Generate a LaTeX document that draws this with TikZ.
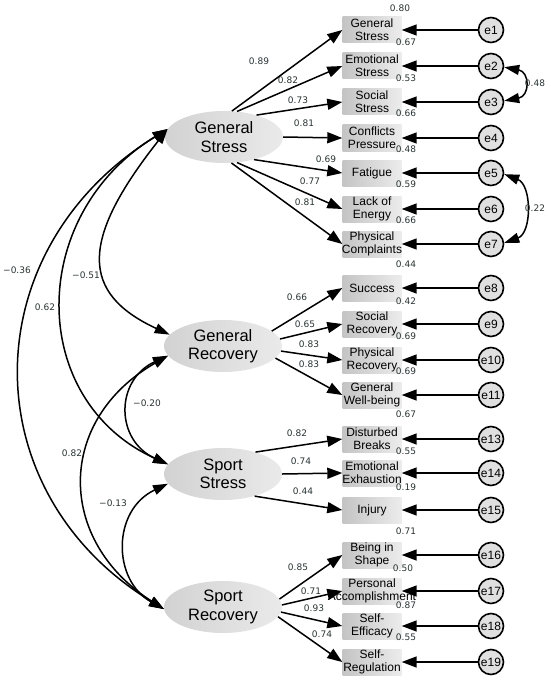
\documentclass[tikz,border=0pt]{standalone}
\usepackage{fontspec}
\setmainfont{Liberation Sans}
\newfontfamily\numfont{DejaVu Sans}
\usetikzlibrary{arrows.meta,shapes.geometric}

\definecolor{semboxdark}{RGB}{196, 196, 196}
\definecolor{semboxlight}{RGB}{236, 236, 236}
\definecolor{semlatent}{RGB}{210, 210, 210}
\definecolor{semlatentlight}{RGB}{234, 234, 234}
\definecolor{semerr}{RGB}{224, 224, 224}
\definecolor{semnum}{RGB}{40, 50, 50}

\newcommand{\boxline}[1]{\makebox[50pt][c]{#1}}

\begin{document}
\begin{tikzpicture}[
  x=1pt,
  y=-1pt,
  obsbox/.style={rectangle, minimum width=59pt, minimum height=26pt, inner sep=0pt, left color=semboxdark, right color=semboxlight, align=center, font=\fontsize{12}{13}\selectfont},
  latent/.style={ellipse, minimum width=118pt, minimum height=52pt, inner sep=0pt, left color=semlatent, right color=semlatentlight, align=center, font=\fontsize{16.5}{18.5}\selectfont},
  errcirc/.style={circle, draw=black, line width=1.6pt, fill=semerr, minimum size=25pt, inner sep=0pt, font=\fontsize{12}{13}\selectfont},
  numlabel/.style={font=\numfont\fontsize{9}{10}\selectfont, text=semnum, inner sep=0pt},
  loadarrow/.style={line width=1.5pt, -{Triangle[length=15pt, width=11pt]}},
  covarrow/.style={line width=1.5pt, {Triangle[length=15pt, width=10pt]}-{Triangle[length=15pt, width=10pt]}}
]

  \useasboundingbox (0, 0) rectangle (550, 682);

  % Latent factors
  \node[latent] (gs) at (224, 137) {General\\Stress};
  \node[latent] (gr) at (223, 346) {General\\Recovery};
  \node[latent] (ss) at (223, 474) {Sport\\Stress};
  \node[latent] (sr) at (223, 607) {Sport\\Recovery};

  % Observed scales
  \node[obsbox] (b1) at (372, 30) {General\\Stress};
  \node[obsbox] (b2) at (372, 66) {Emotional\\Stress};
  \node[obsbox] (b3) at (372, 102) {Social\\Stress};
  \node[obsbox] (b4) at (372, 138) {Conflicts\\Pressure};
  \node[obsbox] (b5) at (372, 173) {Fatigue};
  \node[obsbox] (b6) at (372, 209) {Lack of\\Energy};
  \node[obsbox] (b7) at (372, 244) {Physical\\\boxline{Complaints}};
  \node[obsbox] (b8) at (372, 288) {Success};
  \node[obsbox] (b9) at (372, 324) {Social\\Recovery};
  \node[obsbox] (b10) at (372, 360) {Physical\\Recovery};
  \node[obsbox] (b11) at (372, 395) {General\\Well-being};
  \node[obsbox] (b13) at (372, 439) {Disturbed\\Breaks};
  \node[obsbox] (b14) at (372, 473) {Emotional\\\boxline{Exhaustion}};
  \node[obsbox] (b15) at (372, 510) {Injury};
  \node[obsbox] (b16) at (372, 555) {Being in\\Shape};
  \node[obsbox] (b17) at (372, 591) {Personal\\\boxline{Accomplishment}};
  \node[obsbox] (b18) at (372, 626) {Self-\\Efficacy};
  \node[obsbox] (b19) at (372, 662) {Self-\\Regulation};

  % Error terms
  \node[errcirc] (e1) at (491, 30) {e1};
  \node[errcirc] (e2) at (491, 66) {e2};
  \node[errcirc] (e3) at (491, 102) {e3};
  \node[errcirc] (e4) at (491, 138) {e4};
  \node[errcirc] (e5) at (491, 173) {e5};
  \node[errcirc] (e6) at (491, 209) {e6};
  \node[errcirc] (e7) at (491, 244) {e7};
  \node[errcirc] (e8) at (491, 288) {e8};
  \node[errcirc] (e9) at (491, 324) {e9};
  \node[errcirc] (e10) at (491, 360) {e10};
  \node[errcirc] (e11) at (491, 395) {e11};
  \node[errcirc] (e13) at (491, 439) {e13};
  \node[errcirc] (e14) at (491, 473) {e14};
  \node[errcirc] (e15) at (491, 510) {e15};
  \node[errcirc] (e16) at (491, 555) {e16};
  \node[errcirc] (e17) at (491, 591) {e17};
  \node[errcirc] (e18) at (491, 626) {e18};
  \node[errcirc] (e19) at (491, 662) {e19};

  % Loadings
  \draw[loadarrow] (gs.73) -- (b1.west);
  \draw[loadarrow] (gs.63) -- (b2.west);
  \draw[loadarrow] (gs.34) -- (b3.west);
  \draw[loadarrow] (gs.0) -- (b4.west);
  \draw[loadarrow] (gs.-37) -- (b5.west);
  \draw[loadarrow] (gs.-63) -- (b6.west);
  \draw[loadarrow] (gs.-74) -- (b7.west);
  \draw[loadarrow] (gr.17) -- (b8.west);
  \draw[loadarrow] (gr.7) -- (b9.west);
  \draw[loadarrow] (gr.-5) -- (b10.west);
  \draw[loadarrow] (gr.-13) -- (b11.west);
  \draw[loadarrow] (ss.34) -- (b13.west);
  \draw[loadarrow] (ss.0) -- (b14.west);
  \draw[loadarrow] (ss.-35) -- (b15.west);
  \draw[loadarrow] (sr.8) -- (b16.west);
  \draw[loadarrow] (sr.2) -- (b17.west);
  \draw[loadarrow] (sr.-5) -- (b18.west);
  \draw[loadarrow] (sr.-10) -- (b19.west);

  % Error paths
  \draw[loadarrow] (e1) -- (b1);
  \draw[loadarrow] (e2) -- (b2);
  \draw[loadarrow] (e3) -- (b3);
  \draw[loadarrow] (e4) -- (b4);
  \draw[loadarrow] (e5) -- (b5);
  \draw[loadarrow] (e6) -- (b6);
  \draw[loadarrow] (e7) -- (b7);
  \draw[loadarrow] (e8) -- (b8);
  \draw[loadarrow] (e9) -- (b9);
  \draw[loadarrow] (e10) -- (b10);
  \draw[loadarrow] (e11) -- (b11);
  \draw[loadarrow] (e13) -- (b13);
  \draw[loadarrow] (e14) -- (b14);
  \draw[loadarrow] (e15) -- (b15);
  \draw[loadarrow] (e16) -- (b16);
  \draw[loadarrow] (e17) -- (b17);
  \draw[loadarrow] (e18) -- (b18);
  \draw[loadarrow] (e19) -- (b19);

  % Factor covariances
  \draw[covarrow] (gs.172) .. controls (-28, 250) and (-28, 492) .. (sr.182);
  \draw[covarrow] (gs.172) .. controls (27, 215) and (27, 400) .. (ss.170);
  \draw[covarrow] (gs.172) .. controls (80, 240) and (80, 293) .. (gr.168);
  \draw[covarrow] (gr.190) .. controls (115, 380) and (115, 440) .. (ss.170);
  \draw[covarrow] (gr.190) .. controls (56, 420) and (56, 540) .. (sr.182);
  \draw[covarrow] (ss.190) .. controls (112, 510) and (112, 580) .. (sr.182);

  % Error covariances
  \draw[covarrow] (e2.-5) .. controls (530, 72) and (530, 96) .. (e3.5);
  \draw[covarrow] (e5.-5) .. controls (532, 185) and (532, 233) .. (e7.5);

  % Loading values
  \node[numlabel] (l1) at (259, 61) {0.89};
  \node[numlabel] (l2) at (288, 80) {0.82};
  \node[numlabel] (l3) at (298, 100) {0.73};
  \node[numlabel] (l4) at (304, 123) {0.81};
  \node[numlabel] (l5) at (326, 159) {0.69};
  \node[numlabel] (l6) at (310, 181) {0.77};
  \node[numlabel] (l7) at (305, 202) {0.81};
  \node[numlabel] (l8) at (297, 297) {0.66};
  \node[numlabel] (l9) at (305, 324) {0.65};
  \node[numlabel] (l10) at (309, 344) {0.83};
  \node[numlabel] (l11) at (309, 364) {0.83};
  \node[numlabel] (l13) at (297, 433) {0.82};
  \node[numlabel] (l14) at (301, 461) {0.74};
  \node[numlabel] (l15) at (303, 491) {0.44};
  \node[numlabel] (l16) at (298, 567) {0.85};
  \node[numlabel] (l17) at (311, 591) {0.71};
  \node[numlabel] (l18) at (314, 608) {0.93};
  \node[numlabel] (l19) at (322, 634) {0.74};

  % Squared multiple correlations
  \node[numlabel] (r1) at (400, 8) {0.80};
  \node[numlabel] (r2) at (406, 42) {0.67};
  \node[numlabel] (r3) at (406, 78) {0.53};
  \node[numlabel] (r4) at (406, 113) {0.66};
  \node[numlabel] (r5) at (406, 149) {0.48};
  \node[numlabel] (r6) at (406, 184) {0.59};
  \node[numlabel] (r7) at (406, 220) {0.66};
  \node[numlabel] (r8) at (406, 264) {0.44};
  \node[numlabel] (r9) at (406, 301) {0.42};
  \node[numlabel] (r10) at (406, 336) {0.69};
  \node[numlabel] (r11) at (406, 371) {0.69};
  \node[numlabel] (r13) at (406, 414) {0.67};
  \node[numlabel] (r14) at (406, 451) {0.55};
  \node[numlabel] (r15) at (406, 487) {0.19};
  \node[numlabel] (r16) at (406, 531) {0.71};
  \node[numlabel] (r17) at (403, 568) {0.50};
  \node[numlabel] (r18) at (406, 605) {0.87};
  \node[numlabel] (r19) at (406, 637) {0.55};

  % Covariance values
  \node[numlabel] (c1) at (17, 270) {−0.36};
  \node[numlabel] (c2) at (45, 307) {0.62};
  \node[numlabel] (c3) at (86, 275) {−0.51};
  \node[numlabel] (c4) at (147, 403) {−0.20};
  \node[numlabel] (c5) at (72, 453) {0.82};
  \node[numlabel] (c6) at (113, 503) {−0.13};
  \node[numlabel] (c7) at (535, 83) {0.48};
  \node[numlabel] (c8) at (535, 208) {0.22};

\end{tikzpicture}
\end{document}
